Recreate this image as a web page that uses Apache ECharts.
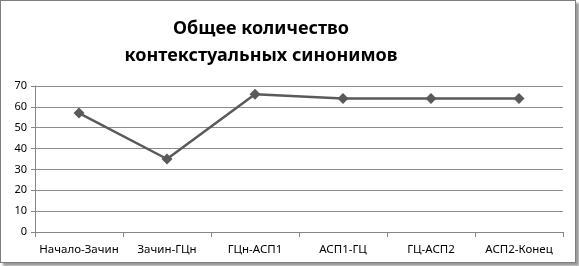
<!DOCTYPE html>
<html><head><meta charset="utf-8">
<script src="https://cdn.jsdelivr.net/npm/echarts@6/dist/echarts.min.js"></script>
<style>
html,body{margin:0;padding:0;background:#fff;}
#frame{position:absolute;left:0;top:0;width:574px;height:261px;border:1px solid #7f7f7f;box-shadow:3px 3px 2px #9a9a9a;background:#fff;}
#c{position:absolute;left:0;top:0;width:579px;height:266px;}
</style></head>
<body>
<div id="frame"></div>
<div id="c"></div>
<script>
const categories = ['Начало-Зачин','Зачин-ГЦн','ГЦн-АСП1','АСП1-ГЦ','ГЦ-АСП2','АСП2-Конец'];
const values = [57, 35, 66, 64, 64, 64];
const titleText = 'Общее количество\nконтекстуальных синонимов';

const chart = echarts.init(document.getElementById('c'), null, {renderer:'canvas'});
chart.setOption({
  animation:false,
  title:{
    text:titleText, left:256, top:10, textAlign:'center',
    textStyle:{fontFamily:'Noto Sans', fontWeight:'bold', fontSize:18, color:'#000', lineHeight:27, align:'center'}
  },
  grid:{left:35, right:16, top:86, bottom:34, containLabel:false},
  xAxis:{
    type:'category', data:categories, boundaryGap:true,
    axisLine:{lineStyle:{color:'#868686', width:1}},
    axisTick:{show:true, length:5, lineStyle:{color:'#868686'}},
    axisLabel:{color:'#000', fontFamily:'Liberation Sans Narrow, Noto Sans', fontSize:11.5, margin:12, interval:0},
    splitLine:{show:false}
  },
  yAxis:{
    type:'value', min:0, max:70, interval:10,
    axisLine:{show:true, lineStyle:{color:'#868686', width:1}},
    axisTick:{show:true, length:4, lineStyle:{color:'#868686'}},
    axisLabel:{color:'#000', fontFamily:'Noto Sans', fontSize:11, margin:8},
    splitLine:{show:true, lineStyle:{color:'#8c8c8c', width:1}}
  },
  series:[{
    type:'line', data:values, symbol:'diamond', symbolSize:11,
    lineStyle:{color:'#5a5a5a', width:2.5},
    itemStyle:{color:'#5a5a5a'}
  }]
});
</script>
</body></html>
